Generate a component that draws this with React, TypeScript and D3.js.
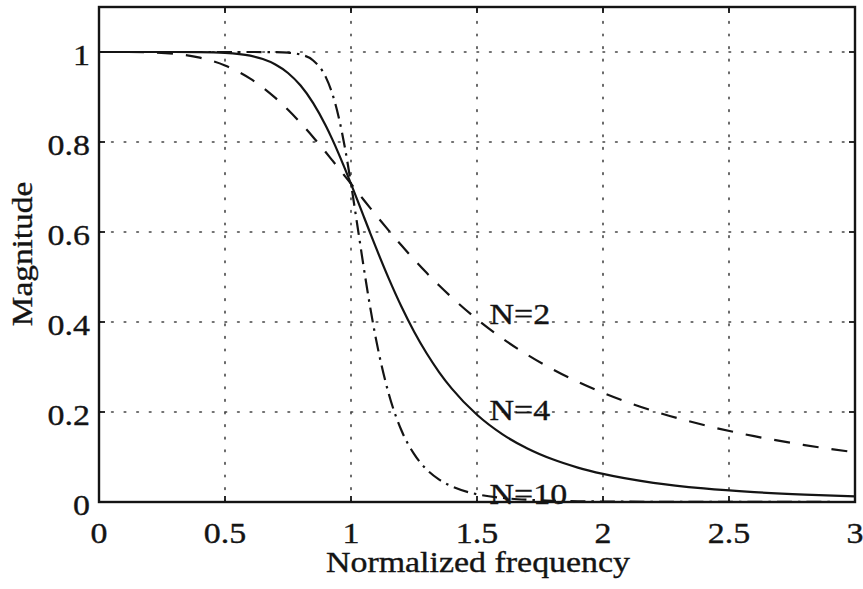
import React from "react";
import * as d3 from "d3";

const freq = [0, 0.1, 0.2, 0.3, 0.4, 0.5, 0.6, 0.65, 0.7, 0.75, 0.8, 0.85, 0.9, 0.925, 0.95, 0.975, 1.0, 1.025, 1.05, 1.075, 1.1, 1.15, 1.2, 1.25, 1.3, 1.35, 1.4, 1.5, 1.6, 1.7, 1.8, 1.9, 2.0, 2.2, 2.4, 2.6, 2.8, 3.0];

const magN2 = [1, 1.0, 0.9992, 0.996, 0.9874, 0.9701, 0.9409, 0.9212, 0.898, 0.8716, 0.8423, 0.8106, 0.7771, 0.7598, 0.7424, 0.7248, 0.7071, 0.6894, 0.6718, 0.6543, 0.637, 0.6031, 0.5704, 0.5391, 0.5092, 0.481, 0.4545, 0.4061, 0.3638, 0.327, 0.2949, 0.267, 0.2425, 0.2023, 0.171, 0.1463, 0.1265, 0.1104];

const magN4 = [1, 1, 1, 1.0, 0.9997, 0.9981, 0.9918, 0.9844, 0.9724, 0.9534, 0.9254, 0.8865, 0.8361, 0.8069, 0.7754, 0.7419, 0.7071, 0.6714, 0.6353, 0.5994, 0.564, 0.4964, 0.4344, 0.379, 0.3305, 0.2883, 0.2519, 0.1938, 0.1508, 0.1189, 0.0948, 0.0765, 0.0624, 0.0426, 0.0301, 0.0219, 0.0163, 0.0123];

const magN10 = [1, 1, 1, 1, 1, 1.0, 1.0, 0.9999, 0.9996, 0.9984, 0.9943, 0.9812, 0.9442, 0.909, 0.858, 0.7899, 0.7071, 0.6156, 0.5232, 0.4365, 0.3597, 0.24, 0.1594, 0.1068, 0.0723, 0.0497, 0.0346, 0.0173, 0.0091, 0.005, 0.0028, 0.0016, 0.001, 0.0004, 0.0002, 0.0001, 0.0001, 0.0];

const xTicks = [0, 0.5, 1, 1.5, 2, 2.5, 3];
const xTickLabels = ["0", "0.5", "1", "1.5", "2", "2.5", "3"];
const yTicks = [0, 0.2, 0.4, 0.6, 0.8, 1];
const yTickLabels = ["0", "0.2", "0.4", "0.6", "0.8", "1"];

const seriesLabels = [
  { text: "N=2", x: 1.55, y: 0.395 },
  { text: "N=4", x: 1.55, y: 0.183 },
  { text: "N=10", x: 1.55, y: -0.005 },
];

const W = 863;
const H = 589;
const FONT = "'Liberation Serif', 'Times New Roman', Times, serif";
const INK = "#141414";

export default function App() {
  const left = 99, right = 855, top = 7, bottom = 502;
  const x = d3.scaleLinear().domain([0, 3]).range([left, right]);
  const y = d3.scaleLinear().domain([0, 1.1]).range([bottom, top]);

  const makeLine = (vals: number[]) =>
    d3
      .line<number>()
      .x((_, i) => x(freq[i]))
      .y((v) => y(v))
      .curve(d3.curveMonotoneX)(vals) || "";

  const fs = 29;
  const sx = 1.17;
  const txt = { fontSize: fs, fill: INK, stroke: INK, strokeWidth: 0.35 };

  return (
    <svg
      width={W}
      height={H}
      style={{ position: "absolute", left: 0, top: 0, background: "#fff" }}
      fontFamily={FONT}
    >
      <rect x={0} y={0} width={W} height={H} fill="#fff" />
      {/* grid */}
      <g stroke="#444" strokeWidth={1.6} strokeDasharray="1.6,11" strokeLinecap="round">
        {xTicks.slice(1, -1).map((t) => (
          <line key={"gx" + t} x1={x(t)} x2={x(t)} y1={bottom} y2={top} />
        ))}
        {yTicks.slice(1).map((t) => (
          <line key={"gy" + t} x1={left} x2={right} y1={y(t)} y2={y(t)} />
        ))}
      </g>

      {/* curves */}
      <path d={makeLine(magN2)} fill="none" stroke={INK} strokeWidth={2.2} strokeDasharray="16,13" />
      <path d={makeLine(magN4)} fill="none" stroke={INK} strokeWidth={2.2} />
      <path d={makeLine(magN10)} fill="none" stroke={INK} strokeWidth={2.2} strokeDasharray="15,6,2.5,6" />

      {/* series labels */}
      {seriesLabels.map((s) => (
        <text key={s.text} transform={`translate(${x(s.x)},${y(s.y)}) scale(${sx},1)`} {...txt}>
          {s.text}
        </text>
      ))}

      {/* frame */}
      <rect x={left} y={top} width={right - left} height={bottom - top} fill="none" stroke={INK} strokeWidth={2.4} />

      {/* ticks */}
      <g stroke={INK} strokeWidth={1.8}>
        {xTicks.map((t) => (
          <g key={"tx" + t}>
            <line x1={x(t)} x2={x(t)} y1={bottom} y2={bottom - 6} />
            <line x1={x(t)} x2={x(t)} y1={top} y2={top + 6} />
          </g>
        ))}
        {yTicks.map((t) => (
          <g key={"ty" + t}>
            <line x1={left} x2={left + 6} y1={y(t)} y2={y(t)} />
            <line x1={right} x2={right - 6} y1={y(t)} y2={y(t)} />
          </g>
        ))}
      </g>

      {/* tick labels */}
      {xTicks.map((t, i) => (
        <text key={"lx" + t} transform={`translate(${x(t)},${543}) scale(${sx},1)`} textAnchor="middle" {...txt}>
          {xTickLabels[i]}
        </text>
      ))}
      {yTicks.map((t, i) => (
        <text key={"ly" + t} transform={`translate(${90},${y(t) + 13}) scale(${sx},1)`} textAnchor="end" {...txt}>
          {yTickLabels[i]}
        </text>
      ))}

      {/* axis titles */}
      <text transform={`translate(${478},${572}) scale(${sx},1)`} textAnchor="middle" {...txt}>
        Normalized frequency
      </text>
      <text transform={`translate(${32},${254}) rotate(-90) scale(1.15,1)`} textAnchor="middle" {...txt}>
        Magnitude
      </text>
    </svg>
  );
}
